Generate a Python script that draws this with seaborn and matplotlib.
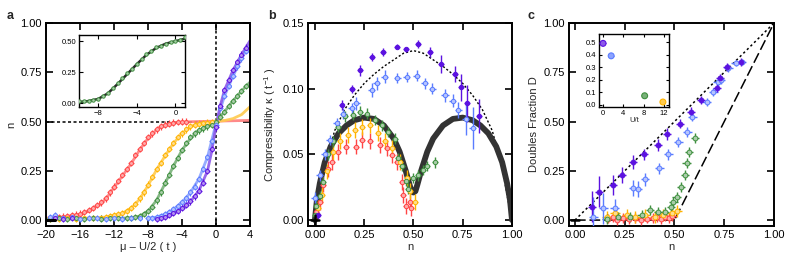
import matplotlib
matplotlib.use("Agg")
import matplotlib.pyplot as plt
import seaborn as sns
import numpy as np
from matplotlib.colors import to_rgb

# ---------------- colours ----------------
C_PURPLE = "#5b12e0"
C_BLUE = "#5a7cff"
C_GREEN = "#3f8f3f"
C_ORANGE = "#ffb300"
C_RED = "#ff4545"

# ---------------- panel a data ----------------
red_mu = [-19.5,-19,-18.5,-18,-17.5,-17,-16.5,-16,-15.5,-15,-14.5,-14,-13.5,-13,-12.5,-12,-11.5,-11,-10.5,-10,-9.5,-9,-8.5,-8,-7.5,-7,-6.5,-6,-5.5,-5,-4.5,-4,-3.5]
red_n = [0.01,0.012,0.015,0.018,0.02,0.024,0.028,0.033,0.04,0.05,0.06,0.075,0.09,0.11,0.14,0.17,0.2,0.23,0.26,0.29,0.33,0.36,0.39,0.42,0.44,0.46,0.475,0.485,0.49,0.495,0.497,0.5,0.5]
red_line_mu = [-20,-18,-16,-15,-14,-13,-12,-11,-10,-9,-8,-7,-6,-5,-4,-2,0,2,4]
red_line_n = [0.01,0.015,0.03,0.045,0.07,0.105,0.165,0.225,0.285,0.355,0.415,0.458,0.483,0.494,0.498,0.5,0.502,0.504,0.506]

orange_mu = [-19.5,-18.5,-17.5,-16.5,-15.5,-14.5,-13.5,-13,-12.5,-12,-11.5,-11,-10.5,-10,-9.5,-9,-8.5,-8,-7.5,-7,-6.5,-6,-5.5,-5,-4.5,-4,-3.5,-3,-2.5,-2,-1.5,-1,-0.5,0]
orange_n = [0.005,0.008,0.01,0.005,0.01,0.01,0.012,0.015,0.02,0.025,0.03,0.035,0.045,0.06,0.08,0.11,0.14,0.18,0.22,0.26,0.29,0.33,0.36,0.39,0.42,0.44,0.46,0.475,0.485,0.49,0.493,0.495,0.497,0.5]
orange_line_mu = [-20,-16,-13,-12,-11,-10,-9,-8,-7,-6,-5,-4,-3,-2,-1,0,1,2,3,4]
orange_line_n = [0.005,0.008,0.015,0.025,0.035,0.06,0.105,0.175,0.255,0.325,0.39,0.44,0.475,0.49,0.495,0.5,0.505,0.515,0.535,0.575]

green_mu = [-19.5,-18.5,-17.5,-16.5,-15.5,-14.5,-13.5,-12.5,-11.5,-10.5,-10,-9.5,-9,-8.5,-8,-7.5,-7,-6.5,-6,-5.5,-5,-4.5,-4,-3.5,-3,-2.5,-2,-1.5,-1,-0.5,0,0.5,1,1.5,2,2.5,3,3.5]
green_n = [0.005,0.01,0.008,0.01,0.005,0.01,0.008,0.01,0.01,0.012,0.012,0.015,0.02,0.03,0.045,0.065,0.1,0.14,0.19,0.23,0.275,0.315,0.355,0.39,0.42,0.44,0.455,0.465,0.475,0.485,0.5,0.525,0.55,0.58,0.605,0.63,0.655,0.68]
green_line_mu = [-20,-12,-10,-9,-8,-7,-6,-5,-4,-3,-2,-1,0,1,2,3,4]
green_line_n = [0.005,0.008,0.012,0.02,0.045,0.1,0.185,0.275,0.355,0.415,0.455,0.478,0.5,0.55,0.605,0.655,0.70]

blue_mu = [-19.5,-19,-18,-17,-16,-15,-14,-13,-12,-11,-10,-9,-8,-7.5,-7,-6.5,-6,-5.5,-5,-4.5,-4,-3.5,-3,-2.5,-2,-1.5,-1,-0.5,0,0.5,1,1.5,2,2.5,3,3.5]
blue_n = [0.015,0.025,0.01,0.015,0.005,0.01,0.01,0.005,0.01,0.008,0.01,0.012,0.01,0.012,0.015,0.02,0.03,0.04,0.055,0.07,0.09,0.11,0.14,0.17,0.21,0.26,0.32,0.4,0.48,0.57,0.63,0.68,0.73,0.78,0.82,0.86]
blue_line_mu = [-8,-7,-6,-5,-4,-3,-2,-1,0,1,2,3,4]
blue_line_n = [0.01,0.015,0.03,0.055,0.09,0.14,0.21,0.32,0.49,0.63,0.73,0.82,0.89]

purple_mu = [-19,-18,-17,-7,-6.5,-6,-5.5,-5,-4.5,-4,-3.5,-3,-2.5,-2,-1.5,-1,-0.5,0,0.5,1,1.5,2,2.5,3,3.5]
purple_n = [0.01,0.005,0.01,0.005,0.01,0.015,0.025,0.035,0.045,0.06,0.075,0.095,0.12,0.15,0.19,0.25,0.36,0.47,0.58,0.66,0.71,0.76,0.80,0.84,0.875]
purple_line_mu = [-7,-6,-5,-4,-3,-2,-1,-0.5,0,0.5,1,2,3,4]
purple_line_n = [0.005,0.015,0.035,0.06,0.095,0.15,0.25,0.35,0.48,0.58,0.66,0.76,0.84,0.91]

guide_h_mu = [-20, 0]
guide_h_n = [0.5, 0.5]
guide_v_mu = [0, 0]
guide_v_n = [-0.03, 1.0]

# inset a (green data with theory)
ins_mu = [-10,-9.5,-9,-8.5,-8,-7.5,-7,-6.5,-6,-5.5,-5,-4.5,-4,-3.5,-3,-2.5,-2,-1.5,-1,-0.5,0,0.5,1]
ins_n = [0.015,0.02,0.02,0.025,0.035,0.055,0.085,0.12,0.16,0.2,0.24,0.28,0.32,0.36,0.395,0.425,0.45,0.465,0.48,0.49,0.5,0.51,0.53]
ins_line_mu = [-10,-9,-8,-7,-6,-5,-4,-3,-2,-1,0,1]
ins_line_n = [0.01,0.018,0.035,0.08,0.155,0.235,0.315,0.39,0.445,0.48,0.5,0.52]

# ---------------- panel b data ----------------
purple_b_n = [0.017,0.135,0.186,0.228,0.288,0.347,0.415,0.462,0.521,0.584,0.638,0.712,0.741,0.77,0.834]
purple_b_k = [0.004,0.0876,0.100,0.114,0.124,0.128,0.132,0.13,0.134,0.128,0.119,0.111,0.101,0.089,0.079]
purple_b_kerr = [0.003,0.004,0.003,0.004,0.003,0.003,0.002,0.002,0.003,0.004,0.007,0.006,0.01,0.014,0.013]

blue_b_n = [0.0,0.025,0.05,0.076,0.11,0.144,0.186,0.21,0.288,0.313,0.355,0.418,0.465,0.516,0.558,0.596,0.66,0.70,0.728,0.766,0.80]
blue_b_k = [0.017,0.034,0.05,0.061,0.074,0.081,0.085,0.089,0.099,0.104,0.109,0.108,0.109,0.11,0.104,0.100,0.095,0.091,0.084,0.077,0.07]
blue_b_kerr = [0.004,0.004,0.004,0.004,0.004,0.004,0.004,0.005,0.005,0.005,0.005,0.004,0.004,0.004,0.004,0.004,0.005,0.005,0.006,0.012,0.016]

green_b_n = [0.0,0.008,0.025,0.042,0.068,0.093,0.118,0.152,0.195,0.228,0.262,0.305,0.338,0.372,0.406,0.423,0.44,0.462,0.474,0.499,0.525,0.55,0.567,0.609]
green_b_k = [0.004,0.011,0.018,0.029,0.05,0.06,0.071,0.079,0.08,0.0825,0.081,0.076,0.072,0.067,0.062,0.047,0.041,0.030,0.024,0.032,0.034,0.038,0.041,0.044]

orange_b_n = [0.017,0.034,0.059,0.093,0.127,0.169,0.203,0.237,0.28,0.32,0.355,0.39,0.431,0.465,0.482,0.508]
orange_b_k = [0.009,0.019,0.037,0.052,0.060,0.065,0.0685,0.071,0.072,0.066,0.06,0.055,0.044,0.032,0.022,0.014]

red_b_n = [0.008,0.025,0.042,0.068,0.085,0.118,0.16,0.21,0.237,0.28,0.33,0.364,0.389,0.415,0.44,0.449,0.462,0.482,0.49]
red_b_k = [0.006,0.014,0.027,0.039,0.044,0.052,0.056,0.056,0.061,0.06,0.057,0.055,0.0495,0.044,0.029,0.019,0.011,0.014,0.009]

theory_b_n = [0.0,0.01,0.025,0.05,0.08,0.12,0.16,0.2,0.25,0.3,0.35,0.4,0.43,0.46,0.48,0.49,0.5,0.51,0.52,0.54,0.57,0.6,0.65,0.7,0.75,0.8,0.84,0.88,0.92,0.95,0.975,0.99,1.0]
theory_b_k = [0.0,0.015,0.028,0.044,0.056,0.066,0.072,0.076,0.078,0.077,0.072,0.062,0.052,0.038,0.027,0.022,0.021,0.022,0.027,0.038,0.052,0.062,0.072,0.077,0.078,0.076,0.072,0.066,0.056,0.044,0.028,0.015,0.0]

free_b_n = [0.0,0.02,0.05,0.1,0.15,0.2,0.25,0.3,0.35,0.4,0.45,0.5,0.55,0.6,0.65,0.7,0.75,0.8,0.85,0.9,0.95,0.98,1.0]
free_b_k = [0.0,0.015,0.04,0.068,0.084,0.095,0.104,0.111,0.117,0.122,0.127,0.129,0.127,0.122,0.117,0.111,0.104,0.095,0.084,0.068,0.04,0.015,0.0]

# ---------------- panel c data ----------------
purple_c_n = [0.084,0.12,0.193,0.235,0.293,0.348,0.415,0.46,0.528,0.583,0.633,0.712,0.729,0.765,0.832]
purple_c_D = [0.068,0.144,0.178,0.228,0.296,0.333,0.381,0.435,0.49,0.55,0.609,0.672,0.722,0.778,0.804]
purple_c_Derr = [0.08,0.08,0.05,0.04,0.035,0.03,0.03,0.03,0.025,0.025,0.02,0.02,0.02,0.02,0.02]

blue_c_n = [0.092,0.142,0.2,0.293,0.315,0.352,0.424,0.469,0.519,0.564,0.59,0.662,0.695,0.717,0.734,0.77,0.807,0.837]
blue_c_D = [0.017,0.059,0.059,0.161,0.157,0.206,0.262,0.333,0.398,0.448,0.525,0.597,0.651,0.702,0.711,0.773,0.795,0.804]
blue_c_Derr = [0.1,0.08,0.05,0.04,0.04,0.035,0.03,0.03,0.025,0.025,0.02,0.02,0.02,0.02,0.02,0.02,0.015,0.015]

green_c_n = [0.159,0.218,0.276,0.335,0.377,0.419,0.452,0.482,0.494,0.511,0.533,0.553,0.561,0.573,0.603]
green_c_D = [0.005,0.017,0.017,0.025,0.05,0.042,0.042,0.068,0.093,0.118,0.169,0.228,0.288,0.347,0.418]

orange_c_n = [0.159,0.2,0.26,0.3,0.352,0.402,0.444,0.486,0.511]
orange_c_D = [0.017,0.034,0.025,0.017,0.025,0.017,0.025,0.034,0.046]

red_c_n = [0.168,0.19,0.209,0.24,0.27,0.3,0.33,0.36,0.39,0.41,0.43,0.45,0.47,0.49]
red_c_D = [0.008,0.015,0.0,0.01,0.005,0.012,0.0,0.008,0.01,0.015,0.005,0.018,0.01,0.02]

free_c_n = [0.0, 1.0]
free_c_D = [0.0, 1.0]
atomic_c_n = [0.0, 0.5, 1.0]
atomic_c_D = [0.0, 0.0, 1.0]

# inset c
ins_c_U = [0.0, 1.6, 8.2, 11.8]
ins_c_D = [0.49, 0.39, 0.07, 0.02]
ins_c_colors = [C_PURPLE, C_BLUE, C_GREEN, C_ORANGE]

# ---------------- style ----------------
sns.set_theme(style="ticks")
plt.rcParams["font.family"] = ["Liberation Sans", "DejaVu Sans"]
plt.rcParams["mathtext.fontset"] = "custom"
plt.rcParams["mathtext.rm"] = "Liberation Sans"
plt.rcParams["mathtext.it"] = "Liberation Sans:italic"
plt.rcParams["axes.unicode_minus"] = True

FS = 8
W, H = 789, 261
fig = plt.figure(figsize=(W / 100, H / 100), dpi=100)


def rect(l, r, t, b):
    return [l / W, 1 - b / H, (r - l) / W, (b - t) / H]


def style_ax(ax, fs=FS, length=5, width=1.2, spw=1.4, pad=3):
    ax.tick_params(direction="in", length=length, width=width, top=True, right=True,
                   labelsize=fs, pad=pad, color="black", labelcolor="black")
    for s in ax.spines.values():
        s.set_linewidth(spw)
        s.set_color("black")


def tint(c, f=0.55):
    r, g, b = to_rgb(c)
    return (r + (1 - r) * f, g + (1 - g) * f, b + (1 - b) * f)


def pts(ax, x, y, xe, ye, c, face=None, s=9, elw=1.0, mlw=0.7, z=3):
    ax.errorbar(x, y, xerr=xe, yerr=ye, fmt="none", ecolor=c, elinewidth=elw,
                capsize=0, zorder=z)
    sns.scatterplot(x=x, y=y, ax=ax, color=face if face is not None else tint(c),
                    edgecolor=c, s=s, linewidth=mlw, zorder=z + 0.5, legend=False)


def line(ax, x, y, c, lw=1.8, alpha=1.0, ls="-", z=2):
    sns.lineplot(x=x, y=y, ax=ax, color=c, lw=lw, alpha=alpha, linestyle=ls,
                 sort=False, estimator=None, zorder=z, legend=False)


# ---------------- panel a ----------------
axa = fig.add_axes(rect(46, 250, 23, 226))
line(axa, guide_h_mu, guide_h_n, "black", lw=1.1, ls=(0, (2, 1.6)), z=1)
line(axa, guide_v_mu, guide_v_n, "black", lw=1.1, ls=(0, (2, 1.6)), z=1)
for mu, n, lmu, ln, c in [
    (red_mu, red_n, red_line_mu, red_line_n, C_RED),
    (orange_mu, orange_n, orange_line_mu, orange_line_n, C_ORANGE),
    (green_mu, green_n, green_line_mu, green_line_n, C_GREEN),
    (blue_mu, blue_n, blue_line_mu, blue_line_n, C_BLUE),
    (purple_mu, purple_n, purple_line_mu, purple_line_n, C_PURPLE),
]:
    line(axa, lmu, ln, tint(c, 0.3), lw=2.0, alpha=0.9, z=2)
    pts(axa, mu, n, 0.3, 0.016, c, s=8, elw=0.9)
line(axa, [-20, -19], [0.0, 0.0], "black", lw=2.2, z=5)
axa.set_xlim(-20, 4)
axa.set_ylim(-0.03, 1.0)
axa.set_xticks([-20, -16, -12, -8, -4, 0, 4])
axa.set_yticks([0, 0.25, 0.5, 0.75, 1.0])
axa.set_yticklabels(["0.00", "0.25", "0.50", "0.75", "1.00"])
axa.set_xlabel("μ – U/2 ( t )", fontsize=FS, labelpad=1)
axa.set_ylabel("n", fontsize=FS, labelpad=3)
style_ax(axa)

# inset a
axai = fig.add_axes(rect(79, 185, 35, 107))
line(axai, ins_line_mu, ins_line_n, "#2a2a2a", lw=1.8, z=2)
pts(axai, ins_mu, ins_n, 0.15, 0.008, C_GREEN, s=6, elw=0.7, z=3)
axai.set_xlim(-10, 1)
axai.set_ylim(-0.03, 0.55)
axai.set_xticks([-8, -4, 0])
axai.set_yticks([0, 0.25, 0.5])
axai.set_yticklabels(["0.00", "0.25", "0.50"])
axai.set_xlabel("")
axai.set_ylabel("")
style_ax(axai, fs=5.5, length=3, width=0.8, spw=1.0, pad=2)

# ---------------- panel b ----------------
axb = fig.add_axes(rect(308, 512, 23, 226))
line(axb, free_b_n, free_b_k, "black", lw=1.0, ls=(0, (1.5, 1.5)), z=1)
line(axb, theory_b_n, theory_b_k, "#333333", lw=4.2, z=2)
pts(axb, red_b_n, red_b_k, 0.015, 0.006, C_RED, s=10)
pts(axb, orange_b_n, orange_b_k, 0.015, 0.006, C_ORANGE, s=10)
pts(axb, green_b_n, green_b_k, 0.015, 0.004, C_GREEN, s=10)
pts(axb, blue_b_n, blue_b_k, 0.018, blue_b_kerr, C_BLUE, s=10)
pts(axb, purple_b_n, purple_b_k, 0.015, purple_b_kerr, C_PURPLE, face=C_PURPLE, s=10)
line(axb, [-0.02, 0.02], [0.0, 0.0], "black", lw=1.8, z=5)
line(axb, [0.0, 0.0], [-0.004, 0.004], "black", lw=1.8, z=5)
axb.set_xlim(-0.035, 1.0)
axb.set_ylim(-0.0045, 0.15)
axb.set_xticks([0, 0.25, 0.5, 0.75, 1.0])
axb.set_xticklabels(["0.00", "0.25", "0.50", "0.75", "1.00"])
axb.set_yticks([0, 0.05, 0.1, 0.15])
axb.set_yticklabels(["0.00", "0.05", "0.10", "0.15"])
axb.set_xlabel("n", fontsize=FS, labelpad=1)
axb.set_ylabel("Compressibility κ ( t$^{\\mathregular{-1}}$ )", fontsize=FS, labelpad=3)
style_ax(axb)

# ---------------- panel c ----------------
axc = fig.add_axes(rect(569, 774, 23, 226))
line(axc, free_c_n, free_c_D, "black", lw=1.1, ls=(0, (1.5, 1.8)), z=1)
line(axc, atomic_c_n, atomic_c_D, "black", lw=1.1, ls=(0, (7, 2.5)), z=1)
pts(axc, red_c_n, red_c_D, 0.022, 0.025, C_RED, s=12)
pts(axc, orange_c_n, orange_c_D, 0.025, 0.03, C_ORANGE, s=12)
pts(axc, green_c_n, green_c_D, 0.022, 0.025, C_GREEN, s=12)
pts(axc, blue_c_n, blue_c_D, 0.022, blue_c_Derr, C_BLUE, s=12)
pts(axc, purple_c_n, purple_c_D, 0.02, purple_c_Derr, C_PURPLE, face=C_PURPLE, s=12)
line(axc, [-0.02, 0.02], [0.0, 0.0], "black", lw=1.8, z=5)
axc.set_xlim(-0.03, 1.0)
axc.set_ylim(-0.03, 1.0)
axc.set_xticks([0, 0.25, 0.5, 0.75, 1.0])
axc.set_xticklabels(["0.00", "0.25", "0.50", "0.75", "1.00"])
axc.set_yticks([0, 0.25, 0.5, 0.75, 1.0])
axc.set_yticklabels(["0.00", "0.25", "0.50", "0.75", "1.00"])
axc.set_xlabel("n", fontsize=FS, labelpad=1)
axc.set_ylabel("Doubles Fraction D", fontsize=FS, labelpad=3)
style_ax(axc)

# inset c
axci = fig.add_axes(rect(599, 669, 34, 107))
for u, d, c in zip(ins_c_U, ins_c_D, ins_c_colors):
    axci.errorbar([u], [d], xerr=[0.5], yerr=[0.015], fmt="none", ecolor=c,
                  elinewidth=0.8, capsize=0, zorder=3)
sns.scatterplot(x=ins_c_U, y=ins_c_D, ax=axci, hue=list(range(len(ins_c_U))),
                palette=[tint(c, 0.3) for c in ins_c_colors], s=18,
                edgecolor=ins_c_colors, linewidth=0.8, zorder=4, legend=False)
axci.set_xlim(-0.8, 13)
axci.set_ylim(-0.02, 0.565)
axci.set_xticks([0, 4, 8, 12])
axci.set_yticks([0, 0.1, 0.2, 0.3, 0.4, 0.5])
axci.set_yticklabels(["0.0", "0.1", "0.2", "0.3", "0.4", "0.5"])
axci.set_xlabel("U/t", fontsize=5.5, labelpad=0.5)
axci.set_ylabel("")
style_ax(axci, fs=5.5, length=2.5, width=0.8, spw=1.0, pad=2)

# panel letters
for x, lab in [(7, "a"), (268, "b"), (528, "c")]:
    fig.text(x / W, 1 - 19 / H, lab, fontsize=9, fontweight="bold", ha="left", va="baseline")

fig.savefig("out.png", dpi=100)
